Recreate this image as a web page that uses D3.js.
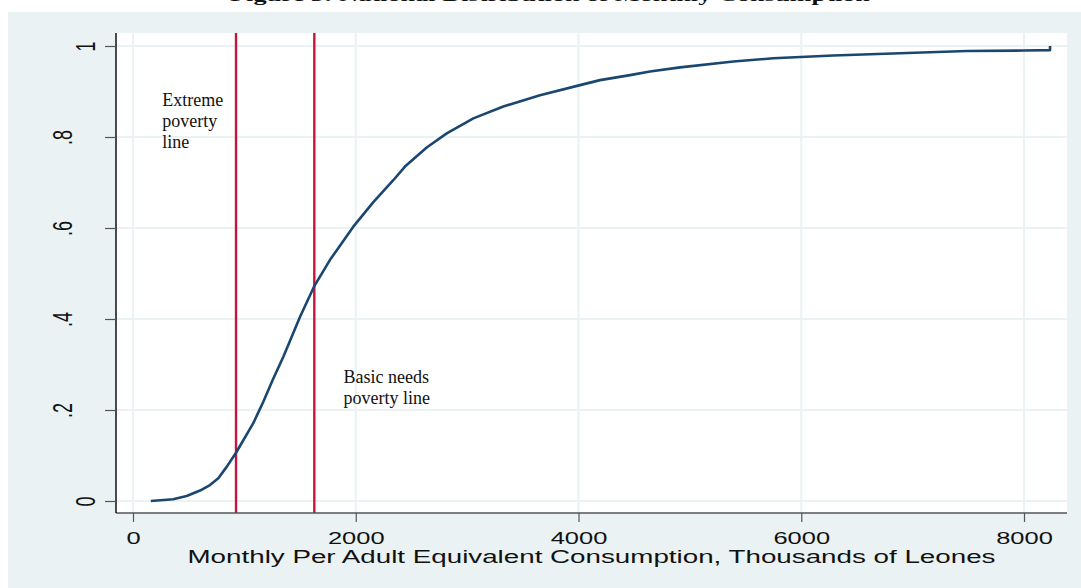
<!DOCTYPE html>
<html>
<head>
<meta charset="utf-8">
<script src="https://cdn.jsdelivr.net/npm/d3@7"></script>
<style>
  html, body { margin: 0; padding: 0; background: #fff; }
  svg { display: block; }
</style>
</head>
<body>
<svg id="chart"></svg>
<script>
// Cumulative distribution of monthly per adult equivalent consumption
const consumption = [160, 360, 482, 602, 691, 766, 841, 925, 1080, 1170, 1254, 1350, 1500, 1625, 1769, 1978, 2158,
  2337, 2442, 2637, 2817, 3056, 3325, 3654, 4014, 4193, 4463, 4642, 4912, 5390, 5749, 6288, 6887, 7486, 7994, 8234, 8234];
const cumShare = [0, 0.004, 0.011, 0.023, 0.035, 0.05, 0.075, 0.106, 0.171, 0.218, 0.266, 0.317, 0.405, 0.471, 0.53, 0.603, 0.657,
  0.705, 0.735, 0.777, 0.808, 0.841, 0.867, 0.892, 0.914, 0.925, 0.936, 0.944, 0.953, 0.966, 0.973, 0.979, 0.984, 0.989, 0.99, 0.991, 1.0];

const povertyLines = [925, 1628];
const povertyNotes = [
  { x: 262, y: 0.868, lines: ['Extreme', 'poverty', 'line'] },
  { x: 1890, y: 0.259, lines: ['Basic needs', 'poverty line'] }
];

const xTicks = [0, 2000, 4000, 6000, 8000];
const yTicks = [0, 0.2, 0.4, 0.6, 0.8, 1];
const yTickLabels = ['0', '.2', '.4', '.6', '.8', '1'];

const TITLE = 'Figure 3: National Distribution of Monthly Consumption';
const X_TITLE = 'Monthly Per Adult Equivalent Consumption, Thousands of Leones';

// ════════════════════════════════════════════════════════════════════════════
const W = 1081, H = 588;
const BG = '#eaf2f3', NAVY = '#1a476f', RED = '#c8133b';
const plot = { left: 116, right: 1067, top: 33, bottom: 513 };
const SX = 1.5;  // Stata export is stretched horizontally

const svg = d3.select('#chart').attr('width', W).attr('height', H);

svg.append('rect').attr('x', 8).attr('y', 12).attr('width', W - 8).attr('height', H - 12).attr('fill', BG);
svg.append('rect').attr('x', plot.left).attr('y', plot.top)
  .attr('width', plot.right - plot.left).attr('height', plot.bottom - plot.top).attr('fill', '#fff');

const x = d3.scaleLinear().domain([0, 8000]).range([133, 1024]);
const y = d3.scaleLinear().domain([0, 1]).range([501, 46]);

// grid
svg.append('g').selectAll('line').data(xTicks).join('line')
  .attr('x1', d => x(d)).attr('x2', d => x(d)).attr('y1', plot.top).attr('y2', plot.bottom)
  .attr('stroke', BG).attr('stroke-width', 2);
svg.append('g').selectAll('line').data(yTicks).join('line')
  .attr('y1', d => y(d)).attr('y2', d => y(d)).attr('x1', plot.left).attr('x2', plot.right)
  .attr('stroke', BG).attr('stroke-width', 2);

// poverty lines
svg.append('g').selectAll('line').data(povertyLines).join('line')
  .attr('x1', d => x(d)).attr('x2', d => x(d)).attr('y1', plot.top).attr('y2', plot.bottom)
  .attr('stroke', RED).attr('stroke-width', 2.4);

// CDF curve
const pts = consumption.map((c, i) => [c, cumShare[i]]);
svg.append('path').datum(pts)
  .attr('fill', 'none').attr('stroke', NAVY).attr('stroke-width', 2.6).attr('stroke-linejoin', 'round')
  .attr('d', d3.line().x(d => x(d[0])).y(d => y(d[1])));

// notes
povertyNotes.forEach(n => {
  const t = svg.append('text').attr('font-family', '"Liberation Serif","Times New Roman",serif')
    .attr('font-size', 18).attr('fill', '#111');
  n.lines.forEach((l, i) => {
    t.append('tspan').attr('x', x(n.x)).attr('y', y(n.y) + i * 21).text(l);
  });
});

// x axis
const xAxis = svg.append('g').attr('transform', `translate(0,${plot.bottom})`)
  .call(d3.axisBottom(x).tickValues(xTicks).tickSize(9).tickPadding(4).tickFormat(d3.format('d')));
xAxis.select('.domain').attr('d', `M${plot.left},0H${plot.right}`).attr('stroke', '#555').attr('stroke-width', 1.5);
xAxis.selectAll('.tick line').attr('stroke', '#555').attr('stroke-width', 1.2);
xAxis.selectAll('.tick text')
  .attr('font-family', '"Liberation Sans",Arial,sans-serif').attr('font-size', 17).attr('fill', '#111')
  .attr('dy', 0).attr('y', 31)
  .attr('transform', `scale(${SX},1)`);

// y axis
const yAxis = svg.append('g').attr('transform', `translate(${plot.left},0)`)
  .call(d3.axisLeft(y).tickValues(yTicks).tickSize(11).tickFormat((d, i) => yTickLabels[i]));
yAxis.select('.domain').attr('d', `M0,${plot.top}V${plot.bottom}`).attr('stroke', '#111').attr('stroke-width', 1.5);
yAxis.selectAll('.tick line').attr('stroke', '#555').attr('stroke-width', 1.2);
yAxis.selectAll('.tick text')
  .attr('font-family', '"Liberation Sans",Arial,sans-serif').attr('font-size', 18).attr('fill', '#111')
  .attr('x', 0).attr('dy', 0).attr('text-anchor', 'middle')
  .attr('transform', (d, i) => `translate(${yTickLabels[i].length === 1 ? -21 : -44},0) scale(${SX},1) rotate(-90)`);

// axis title
svg.append('text')
  .attr('x', (plot.left + plot.right) / 2).attr('y', 563).attr('text-anchor', 'middle')
  .attr('font-family', '"Liberation Sans",Arial,sans-serif').attr('font-size', 17.5).attr('fill', '#111')
  .attr('textLength', 808).attr('lengthAdjust', 'spacingAndGlyphs')
  .text(X_TITLE);

// title, cut by the top edge of the page as in the source
svg.append('text')
  .attr('x', 550).attr('y', 1).attr('text-anchor', 'middle')
  .attr('font-family', '"Liberation Serif","Times New Roman",serif').attr('font-weight', 'bold')
  .attr('font-size', 16).attr('fill', '#111')
  .attr('textLength', 640).attr('lengthAdjust', 'spacingAndGlyphs')
  .text(TITLE);
</script>
</body>
</html>
